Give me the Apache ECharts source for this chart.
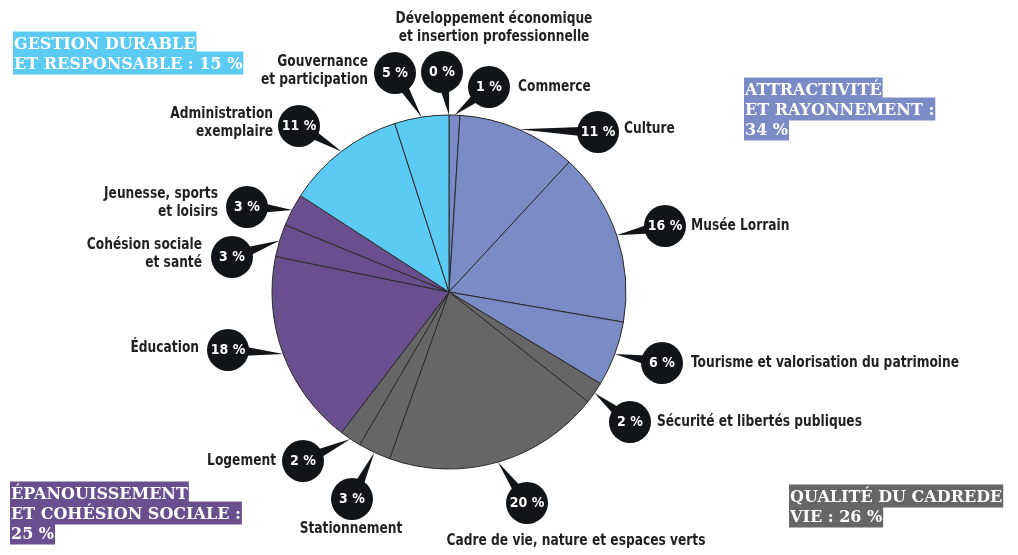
<!DOCTYPE html>
<html>
<head>
<meta charset="utf-8">
<script src="https://cdn.jsdelivr.net/npm/echarts@6/dist/echarts.min.js"></script>
<style>
  html, body { margin: 0; padding: 0; background: #ffffff; }
  #chart { width: 1018px; height: 555px; }
</style>
</head>
<body>
<div id="chart"></div>
<script>
// Budget shares by policy area, listed clockwise from twelve o'clock
const categories = [
  'Développement économique\net insertion professionnelle',
  'Commerce',
  'Culture',
  'Musée Lorrain',
  'Tourisme et valorisation du patrimoine',
  'Sécurité et libertés publiques',
  'Cadre de vie, nature et espaces verts',
  'Stationnement',
  'Logement',
  'Éducation',
  'Cohésion sociale\net santé',
  'Jeunesse, sports\net loisirs',
  'Administration\nexemplaire',
  'Gouvernance\net participation'
];
const shares = [0, 1, 11, 16, 6, 2, 20, 3, 2, 18, 3, 3, 11, 5];
// Which theme each policy area belongs to (index into themeNames)
const themeOf = [1, 1, 1, 1, 1, 3, 3, 3, 3, 2, 2, 2, 0, 0];

// Theme headings and their stated totals
const themeNames = [
  ['GESTION DURABLE', 'ET RESPONSABLE : '],
  ['ATTRACTIVITÉ', 'ET RAYONNEMENT :', ''],
  ['ÉPANOUISSEMENT', 'ET COHÉSION SOCIALE :', ''],
  ['QUALITÉ DU CADREDE', 'VIE : ']
];
const themeTotals = [15, 34, 25, 26];

// Presentation
const themeColors = ['#5ccbf4', '#7a8bc6', '#6b4e8e', '#666666'];
const themeBoxAt = [[13, 33], [744, 79], [10, 483], [789, 486]];
const bubbleAt = [
  [442, 72], [489, 87], [598, 132], [665, 226], [662, 363], [630, 422], [527, 503],
  [352, 499], [303, 461], [228, 350], [232, 257], [247, 207], [299, 126], [395, 73]
];
const nameAt = [
  [494, 28, 'center'], [518, 87, 'left'], [624, 129, 'left'], [691, 226, 'left'],
  [691, 363, 'left'], [657, 422, 'left'], [576, 541, 'center'], [351, 529, 'center'],
  [276, 461, 'right'], [199, 348, 'right'], [202, 254, 'right'], [218, 203, 'right'],
  [273, 123, 'right'], [368, 71, 'right']
];
const BUBBLE_R = 21;
const NAME_FONT = '"DejaVu Sans Condensed", "Liberation Sans Narrow", Roboto, sans-serif';
const TITLE_FONT = '"DejaVu Serif", "Liberation Serif", serif';
const INK = '#111517';

const chart = echarts.init(document.getElementById('chart'), null, { renderer: 'canvas' });

const pieData = categories.map((name, i) => ({
  name: name,
  value: shares[i],
  itemStyle: { color: themeColors[themeOf[i]] }
}));

// Area names beside each bubble (narrowed to a condensed look)
const nameTexts = categories.map((name, i) => ({
  type: 'text',
  id: 'name' + i,
  x: nameAt[i][0],
  y: nameAt[i][1],
  scaleX: 0.85,
  silent: true,
  style: {
    text: name,
    align: nameAt[i][2],
    verticalAlign: 'middle',
    fill: '#231f20',
    font: 'bold 16px ' + NAME_FONT,
    lineHeight: 18
  }
}));

// Theme headings, each line on its own colour band
const themeTexts = themeNames.map((lines, t) => {
  const full = lines.slice();
  full[full.length - 1] = full[full.length - 1] + themeTotals[t] + ' %';
  return {
    type: 'text',
    id: 'theme' + t,
    x: themeBoxAt[t][0],
    y: themeBoxAt[t][1],
    silent: true,
    style: {
      text: full.map(l => '{g|' + l + '}').join('\n'),
      rich: {
        g: {
          backgroundColor: themeColors[t],
          fill: '#ffffff',
          font: 'bold 16px ' + TITLE_FONT,
          lineHeight: 20,
          height: 20,
          padding: [3, 1, 0, 1]
        }
      }
    }
  };
});

// Edge points of each slice, as laid out by the pie series
const tailTips = [];

const baseOption = {
  animation: false,
  graphic: themeTexts.concat(nameTexts),
  series: [{
    type: 'pie',
    center: [449, 292],
    radius: 177,
    startAngle: 90,
    clockwise: true,
    avoidLabelOverlap: false,
    silent: true,
    itemStyle: { borderColor: '#2a2a2a', borderWidth: 1 },
    label: {
      show: true,
      position: 'outside',
      formatter: p => '{v|' + p.value + ' %}',
      rich: {
        v: {
          width: BUBBLE_R * 2,
          height: BUBBLE_R * 2,
          lineHeight: BUBBLE_R * 2,
          align: 'center',
          verticalAlign: 'middle',
          backgroundColor: INK,
          borderRadius: BUBBLE_R,
          color: '#ffffff',
          fontFamily: NAME_FONT,
          fontWeight: 'bold',
          fontSize: 14
        }
      }
    },
    labelLine: {
      show: true,
      length: 8,
      length2: 8,
      lineStyle: { color: INK, width: 1, opacity: 0 }
    },
    labelLayout: p => {
      if (p.labelLinePoints && p.labelLinePoints[0]) {
        tailTips[p.dataIndex] = p.labelLinePoints[0].slice();
      }
      return {
        x: bubbleAt[p.dataIndex][0],
        y: bubbleAt[p.dataIndex][1],
        align: 'center',
        verticalAlign: 'middle'
      };
    },
    data: pieData
  }]
};

chart.setOption(baseOption);

// Tapered pointers from each bubble to its slice
const tails = [];
categories.forEach((name, i) => {
  const tip = tailTips[i];
  if (!tip) return;
  const c = bubbleAt[i];
  const dx = tip[0] - c[0], dy = tip[1] - c[1];
  const len = Math.sqrt(dx * dx + dy * dy) || 1;
  const ux = dx / len, uy = dy / len;
  const bx = c[0] + ux * (BUBBLE_R - 4), by = c[1] + uy * (BUBBLE_R - 4);
  const hw = 4.5;
  tails.push({
    type: 'polygon',
    id: 'tail' + i,
    silent: true,
    z: 50,
    shape: { points: [[bx - uy * hw, by + ux * hw], [bx + uy * hw, by - ux * hw], tip] },
    style: { fill: INK }
  });
});

chart.setOption({ graphic: themeTexts.concat(nameTexts, tails) });
</script>
</body>
</html>
